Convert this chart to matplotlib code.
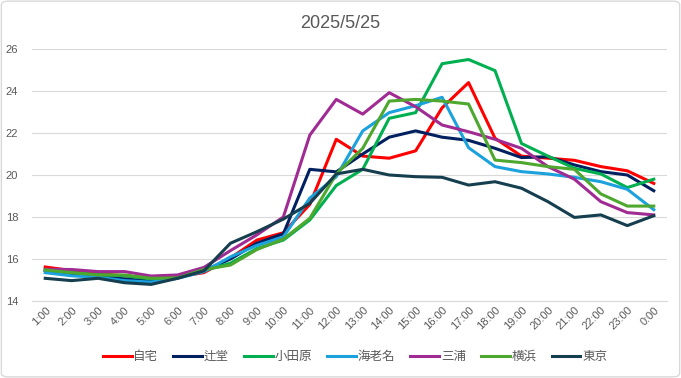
import matplotlib.pyplot as plt
from matplotlib.patches import FancyBboxPatch

# Liberation Sans para numeros, Noto CJK para los nombres en japones
plt.rcParams['font.family'] = ['Liberation Sans', 'Noto Sans CJK JP', 'DejaVu Sans']

# horas del dia
horas = ["1:00", "2:00", "3:00", "4:00", "5:00", "6:00", "7:00", "8:00", "9:00", "10:00",
         "11:00", "12:00", "13:00", "14:00", "15:00", "16:00", "17:00", "18:00", "19:00",
         "20:00", "21:00", "22:00", "23:00", "0:00"]

jitaku = [15.62, 15.45, 15.3, 15.2, 15.1, 15.15, 15.35, 16.05, 16.9, 17.25, 18.6, 21.7,
          20.9, 20.8, 21.15, 23.2, 24.4, 21.75, 20.9, 20.8, 20.7, 20.4, 20.2, 19.6]
tsujido = [15.45, 15.3, 15.2, 15.05, 14.95, 15.1, 15.45, 16.0, 16.75, 17.2, 20.27, 20.15,
           21.0, 21.8, 22.1, 21.8, 21.65, 21.27, 20.83, 20.87, 20.48, 20.16, 20.0, 19.25]
odawara = [15.45, 15.35, 15.25, 15.2, 15.05, 15.1, 15.45, 15.8, 16.5, 16.9, 17.86, 19.5,
           20.27, 22.7, 22.97, 25.3, 25.5, 24.97, 21.5, 20.9, 20.32, 20.05, 19.4, 19.8]
ebina = [15.35, 15.2, 15.13, 14.97, 14.9, 15.08, 15.4, 16.1, 16.65, 17.05, 18.9, 19.92,
         22.1, 22.97, 23.3, 23.7, 21.3, 20.4, 20.16, 20.05, 19.89, 19.68, 19.32, 18.35]
miura = [15.51, 15.5, 15.4, 15.4, 15.19, 15.24, 15.6, 16.4, 17.15, 18.0, 21.9, 23.6,
         22.9, 23.92, 23.25, 22.38, 22.06, 21.7, 21.27, 20.4, 19.8, 18.73, 18.21, 18.1]
yokohama = [15.48, 15.35, 15.24, 15.24, 15.08, 15.1, 15.5, 15.71, 16.45, 16.95, 17.94, 20.05,
            21.27, 23.52, 23.6, 23.52, 23.38, 20.71, 20.59, 20.4, 20.27, 19.1, 18.52, 18.52]
tokyo = [15.08, 14.97, 15.08, 14.87, 14.79, 15.08, 15.44, 16.75, 17.3, 17.9, 18.65, 20.05,
         20.27, 20.0, 19.92, 19.89, 19.52, 19.68, 19.37, 18.73, 17.98, 18.1, 17.59, 18.06]

series = [("自宅", jitaku, "#FF0000"),
          ("辻堂", tsujido, "#002060"),
          ("小田原", odawara, "#00B050"),
          ("海老名", ebina, "#1BA1DC"),
          ("三浦", miura, "#A02B93"),
          ("横浜", yokohama, "#4EA72E"),
          ("東京", tokyo, "#153E4E")]

gris = "#595959"

fig = plt.figure(figsize=(6.81, 3.78), dpi=100)
ax = fig.add_axes([32 / 681, 77 / 378, 635 / 681, 252 / 378])

x = list(range(len(horas)))
for nombre, valores, color in series:
    ax.plot(x, valores, color=color, linewidth=2.2, label=nombre, solid_joinstyle="round")

ax.set_xlim(-0.5, len(horas) - 0.5)
ax.set_ylim(14, 26)
ax.set_yticks(range(14, 27, 2))
ax.grid(axis="y", color="#D9D9D9", linewidth=0.8)
ax.set_axisbelow(True)
for lado in ["top", "right", "left"]:
    ax.spines[lado].set_visible(False)
ax.spines["bottom"].set_color("#D9D9D9")
ax.tick_params(axis="y", length=0, pad=10, labelsize=8, labelcolor=gris)
ax.tick_params(axis="x", length=0, pad=3, labelsize=8, labelcolor=gris)
ax.set_xticks(x)
ax.set_xticklabels(horas, rotation=45, ha="right", rotation_mode="anchor")

fig.text(0.5, 1 - 24 / 378, "2025/5/25", ha="center", va="center", fontsize=13, color=gris)

fig.legend(loc="center", bbox_to_anchor=(355 / 681, 1 - 357 / 378), ncol=7, frameon=False,
           fontsize=9, labelcolor=gris, handlelength=2.3, handletextpad=0.15,
           columnspacing=1.2)

# borde del grafico
fig.patches.append(FancyBboxPatch((0.002, 0.003), 0.996, 0.994, boxstyle="round,pad=0,rounding_size=0.01",
                                  transform=fig.transFigure, facecolor="none",
                                  edgecolor="#D9D9D9", linewidth=1))

fig.savefig("out.png", dpi=100)
